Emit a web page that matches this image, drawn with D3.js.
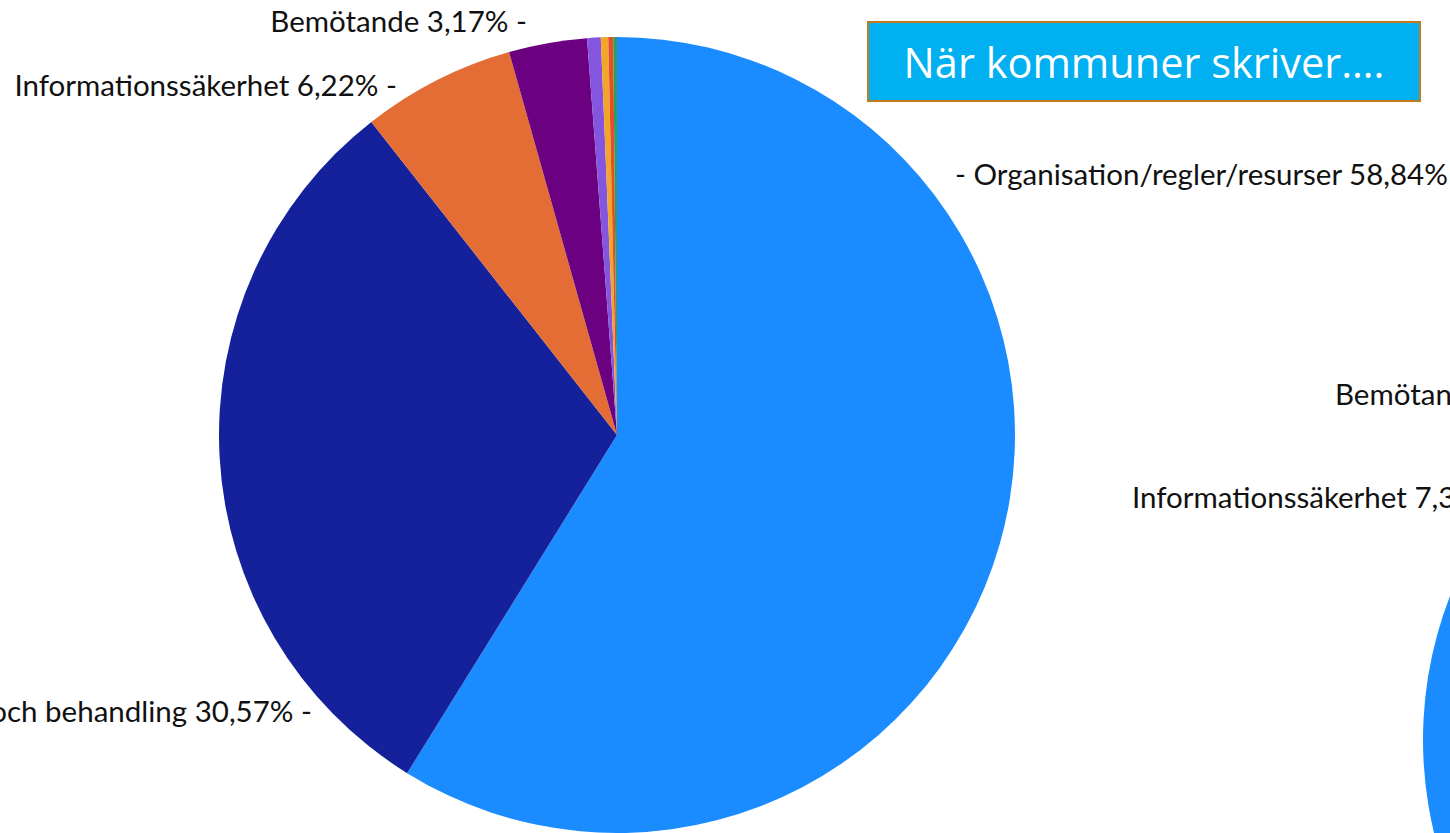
<!DOCTYPE html>
<html lang="sv">
<head>
  <meta charset="UTF-8">
  <title>När kommuner skriver</title>
  <script src="https://cdn.jsdelivr.net/npm/d3@7"></script>
  <style>
    html, body { margin: 0; padding: 0; background: #fff; overflow: hidden; }
    .lbl { font-family: Lato, "Open Sans", sans-serif; font-size: 29.5px; fill: #111; }
    .title { font-family: "Open Sans", Lato, sans-serif; font-size: 41.5px; fill: #fff; }
  </style>
</head>
<body>
  <svg id="chart" width="1450" height="833"></svg>
  <script>
    // vänster diagram: kategorier och andelar (%)
    var categories = ['Organisation/regler/resurser', 'Vård och behandling', 'Informationssäkerhet', 'Bemötande',
      'Övrigt 1', 'Övrigt 2', 'Övrigt 3', 'Övrigt 4'];
    var values = [58.84, 30.57, 6.22, 3.17, 0.55, 0.30, 0.20, 0.15];
    var colors = ['#1a8cff', '#14219b', '#e36d34', '#6b0080', '#8456e0', '#f3a52a', '#e2502a', '#2f9c5c'];

    // höger diagram (syns bara delvis)
    var categories2 = ['Organisation/regler/resurser', 'Vård och behandling', 'Informationssäkerhet', 'Bemötande'];
    var values2 = [55.1, 33.9, 7.35, 3.65];

    var titleText = 'När kommuner skriver….';

    var svg = d3.select('#chart');

    // --- pie 1
    var cx = 617, cy = 435, R = 398;
    var pie = d3.pie().sort(null).value(function (d) { return d.v; });
    var arc = d3.arc().innerRadius(0).outerRadius(R);
    var data1 = categories.map(function (c, i) { return { name: c, v: values[i], color: colors[i] }; });

    var g1 = svg.append('g').attr('transform', 'translate(' + cx + ',' + cy + ')');
    g1.selectAll('path')
      .data(pie(data1))
      .enter()
      .append('path')
      .attr('d', arc)
      .attr('fill', function (d) { return d.data.color; });

    // etiketter, placerade för hand som i originalet
    var fmt = function (v) { return v.toFixed(2).replace('.', ',') + '%'; };
    var labelPos = [
      { i: 0, x: 955, y: 185, anchor: 'start', dashFirst: true },
      { i: 1, x: 312, y: 722, anchor: 'end' },
      { i: 2, x: 397, y: 96, anchor: 'end' },
      { i: 3, x: 527, y: 32, anchor: 'end' }
    ];
    svg.selectAll('text.l1')
      .data(labelPos)
      .enter()
      .append('text')
      .attr('class', 'lbl l1')
      .attr('x', function (d) { return d.x; })
      .attr('y', function (d) { return d.y; })
      .attr('text-anchor', function (d) { return d.anchor; })
      .text(function (d) {
        var s = categories[d.i] + ' ' + fmt(values[d.i]);
        return d.dashFirst ? '- ' + s : s + ' -';
      });

    // --- pie 2 (till höger, mest utanför bild)
    var cx2 = 1821, cy2 = 740;
    var pie2 = d3.pie().sort(null).value(function (d) { return d; }).startAngle(Math.PI).endAngle(3 * Math.PI);
    var g2 = svg.append('g').attr('transform', 'translate(' + cx2 + ',' + cy2 + ')');
    g2.selectAll('path')
      .data(pie2(values2))
      .enter()
      .append('path')
      .attr('d', arc)
      .attr('fill', function (d, i) { return colors[i]; });

    var labelPos2 = [
      { i: 3, x: 1335, y: 405 },
      { i: 2, x: 1132, y: 508 },
      { i: 1, x: 1085, y: 855 }
    ];
    svg.selectAll('text.l2')
      .data(labelPos2)
      .enter()
      .append('text')
      .attr('class', 'lbl l2')
      .attr('x', function (d) { return d.x; })
      .attr('y', function (d) { return d.y; })
      .text(function (d) { return categories2[d.i] + ' ' + fmt(values2[d.i]) + ' -'; });

    // --- rubrikruta
    var box = svg.append('g');
    box.append('rect')
      .attr('x', 868).attr('y', 22)
      .attr('width', 552).attr('height', 79)
      .attr('fill', '#00b0f0')
      .attr('stroke', '#c27c1c')
      .attr('stroke-width', 2);
    box.append('text')
      .attr('class', 'title')
      .attr('x', 868 + 552 / 2)
      .attr('y', 78)
      .attr('text-anchor', 'middle')
      .text(titleText);
  </script>
</body>
</html>
